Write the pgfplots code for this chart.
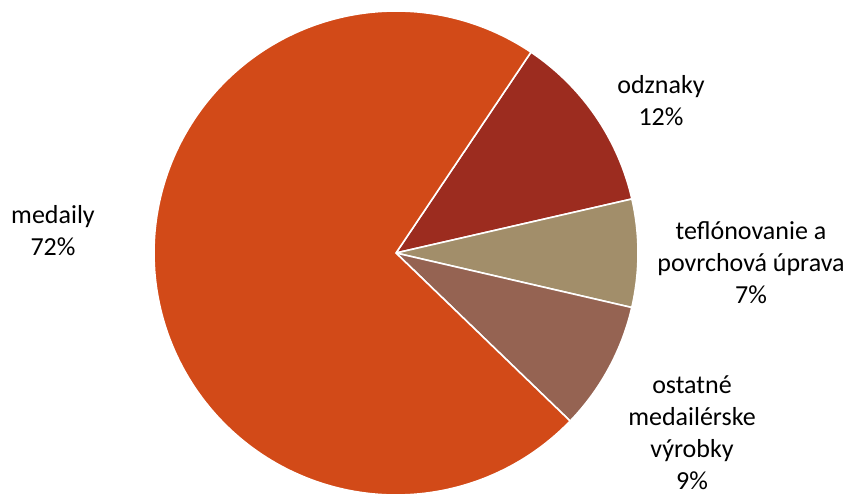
\documentclass[border=0pt]{standalone}
\usepackage{pgfplots}
\pgfplotsset{compat=1.18}
\usepackage{fontspec}
\setmainfont{Carlito}
\definecolor{cMed}{HTML}{D24A18}
\definecolor{cOdz}{HTML}{9C2C1F}
\definecolor{cTef}{HTML}{A28E6A}
\definecolor{cOst}{HTML}{956352}
% shares in percent
\def\vOdz{12.0}
\def\vTef{7.2}
\def\vOst{8.6}
\def\vMed{72.2}
\def\startang{56.1}
\pgfmathsetmacro{\aA}{\startang}
\pgfmathsetmacro{\aB}{\aA-3.6*\vOdz}
\pgfmathsetmacro{\aC}{\aB-3.6*\vTef}
\pgfmathsetmacro{\aD}{\aC-3.6*\vOst}
\pgfmathsetmacro{\aE}{\aD-3.6*\vMed}
\begin{document}
\begin{tikzpicture}
\useasboundingbox (0,0) rectangle (851bp,495bp);
\begin{axis}[
  at={(0,0)}, anchor=south west,
  scale only axis, width=851bp, height=495bp,
  xmin=0, xmax=851, ymin=0, ymax=495,
  hide axis, clip=false,
]
\pgfplotsinvokeforeach{}{}
\addplot[fill=cOdz, draw=white, line width=1.6bp, domain=\aA:\aB, samples=60, smooth=false]
  ({396+242*cos(x)},{242+242*sin(x)}) -- (axis cs:396,242) -- cycle;
\addplot[fill=cTef, draw=white, line width=1.6bp, domain=\aB:\aC, samples=40]
  ({396+242*cos(x)},{242+242*sin(x)}) -- (axis cs:396,242) -- cycle;
\addplot[fill=cOst, draw=white, line width=1.6bp, domain=\aC:\aD, samples=40]
  ({396+242*cos(x)},{242+242*sin(x)}) -- (axis cs:396,242) -- cycle;
\addplot[fill=cMed, draw=white, line width=1.6bp, domain=\aD:\aE, samples=200]
  ({396+242*cos(x)},{242+242*sin(x)}) -- (axis cs:396,242) -- cycle;
\begin{scope}[every node/.style={align=center, font=\fontsize{26bp}{32bp}\selectfont, inner sep=0pt}]
\node at (axis cs:661,394) {odznaky\\12\%};
\node at (axis cs:751,232) {teflónovanie a\\povrchová úprava\\7\%};
\node at (axis cs:692,62) {ostatné\\medailérske\\výrobky\\9\%};
\node at (axis cs:53,264) {medaily\\72\%};
\end{scope}
\end{axis}
\end{tikzpicture}
\end{document}
